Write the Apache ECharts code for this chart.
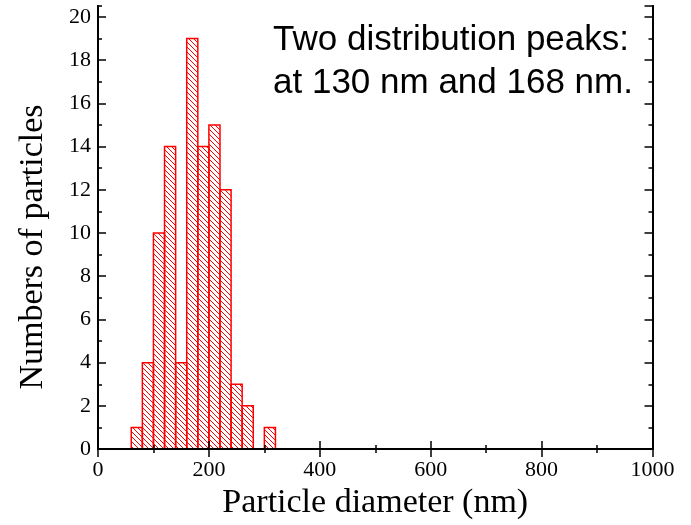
<!DOCTYPE html>
<html>
<head>
<meta charset="utf-8">
<script src="https://cdn.jsdelivr.net/npm/echarts@6/dist/echarts.min.js"></script>
<style>
  html, body { margin: 0; padding: 0; background: #ffffff; }
  #chart { width: 691px; height: 525px; }
</style>
</head>
<body>
<div id="chart"></div>
<script>
// Particle size histogram: lower edge of each 20 nm bin and the count in it
const binStarts = [60, 80, 100, 120, 140, 160, 180, 200, 220, 240, 260, 280, 300];
const binWidth = 20;
const counts = [1, 4, 10, 14, 4, 19, 14, 15, 12, 3, 2, 0, 1];

// Axis ticks
const xTicks = [0, 200, 400, 600, 800, 1000];
const yTicks = [0, 2, 4, 6, 8, 10, 12, 14, 16, 18, 20];
const yTop = 20.5;

// Texts
const xTitle = 'Particle diameter (nm)';
const yTitle = 'Numbers of particles';
const noteLines = ['Two distribution peaks:', 'at 130 nm and 168 nm.'];

const RED = '#ff0000';
const SERIF = '"Liberation Serif", "Times New Roman", serif';
const SANS = '"Liberation Sans", Arial, sans-serif';

// Diagonal "\" hatch tile used to fill the bars
function hatchTile(size, color) {
  const c = document.createElement('canvas');
  c.width = c.height = size;
  const g = c.getContext('2d');
  g.strokeStyle = color;
  g.lineWidth = 1;
  g.beginPath();
  for (const o of [-size, 0, size]) {
    g.moveTo(o, 0);
    g.lineTo(o + size, size);
  }
  g.stroke();
  return c;
}
const hatch = { image: hatchTile(5, RED), repeat: 'repeat' };

const xMin = xTicks[0], xMax = xTicks[xTicks.length - 1], xStep = xTicks[1] - xTicks[0];
const yMin = yTicks[0], yStep = yTicks[1] - yTicks[0];

const frameLine = { show: true, lineStyle: { color: '#000', width: 2 } };
const plainNumber = v => String(v);

function xAxisDef(pos, labels) {
  return {
    type: 'value', position: pos, min: xMin, max: xMax, interval: xStep, z: 5,
    axisLine: frameLine,
    axisTick: { show: true, inside: true, length: 8, lineStyle: { color: '#000', width: 1.5 } },
    minorTick: { show: true, splitNumber: 2, length: 4, lineStyle: { color: '#000', width: 1.5 } },
    splitLine: { show: false }, minorSplitLine: { show: false },
    axisLabel: { show: labels, margin: 10, color: '#000', fontFamily: SERIF, fontSize: 22, formatter: plainNumber },
    name: labels ? xTitle : '', nameLocation: 'middle', nameGap: 31,
    nameTextStyle: { color: '#000', fontFamily: SERIF, fontSize: 34 }
  };
}

function yAxisDef(pos, step, tickLen, labels) {
  return {
    type: 'value', position: pos, min: yMin, max: yTop, interval: step, z: 5,
    axisLine: frameLine,
    axisTick: { show: true, inside: true, length: tickLen, lineStyle: { color: '#000', width: 1.5 } },
    splitLine: { show: false },
    axisLabel: { show: labels, showMaxLabel: false, margin: 7, color: '#000', fontFamily: SERIF, fontSize: 22, formatter: plainNumber }
  };
}

const chart = echarts.init(document.getElementById('chart'), null, { renderer: 'canvas' });

chart.setOption({
  animation: false,
  backgroundColor: '#ffffff',
  grid: { left: 98, right: 38.5, top: 6, bottom: 72, show: false },
  xAxis: [xAxisDef('bottom', true), xAxisDef('top', false)],
  yAxis: [
    yAxisDef('left', yStep, 8, true),
    yAxisDef('left', 1, 4, false),
    yAxisDef('right', yStep, 8, false),
    yAxisDef('right', 1, 4, false)
  ],
  series: [{
    type: 'custom',
    xAxisIndex: 0,
    yAxisIndex: 0,
    z: 1,
    data: binStarts.map((s, i) => [s, counts[i]]),
    renderItem(params, api) {
      const start = api.value(0);
      const n = api.value(1);
      if (!n) return;
      const p0 = api.coord([start, 0]);
      const p1 = api.coord([start + binWidth, n]);
      return {
        type: 'rect',
        shape: { x: p0[0], y: p1[1], width: p1[0] - p0[0], height: p0[1] - p1[1] },
        style: { fill: hatch, stroke: RED, lineWidth: 1.5 }
      };
    }
  }],
  graphic: [
    {
      type: 'text', x: 33, y: 247, rotation: Math.PI / 2,
      style: {
        text: yTitle, font: '34px ' + SERIF, fill: '#000',
        align: 'center', verticalAlign: 'middle'
      }
    },
    {
      type: 'text', x: 273, y: 18.5,
      style: {
        text: noteLines.join('\n'), font: '35px ' + SANS, fill: '#000',
        lineHeight: 43, align: 'left', verticalAlign: 'top'
      }
    }
  ]
});
</script>
</body>
</html>
